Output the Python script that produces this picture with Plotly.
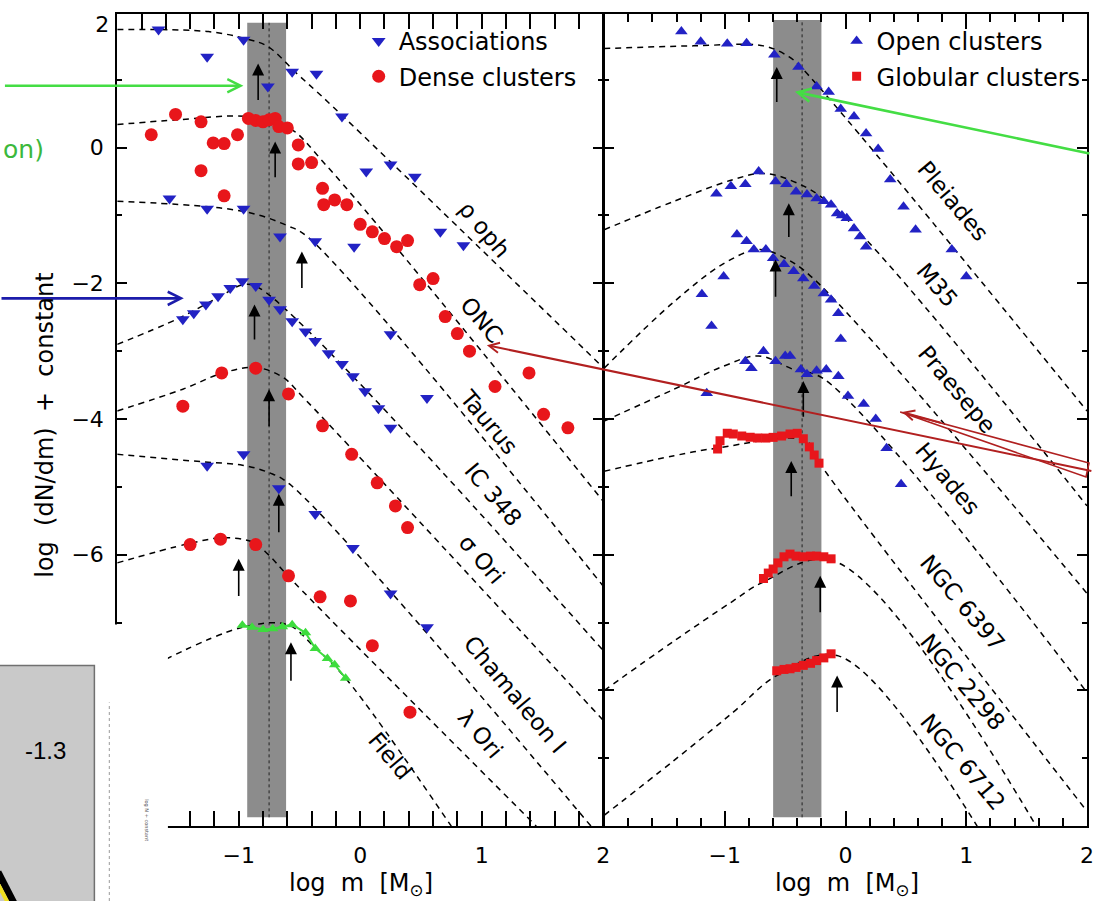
import plotly.graph_objects as go

W, H = 1096, 901

# ---------------- left panel: associations and dense clusters ----------------
# x = log m [Msun], y = log(dN/dm) + constant
rho_oph_x = [-1.66, -1.26, -0.96, -0.76, -0.56, -0.36, -0.15, 0.05, 0.25, 0.45, 0.66, 0.85]
rho_oph_y = [1.74, 1.34, 1.59, 0.90, 1.12, 1.09, 0.46, -0.35, -0.25, -0.43, -1.24, -1.44]

taurus_x = [-1.57, -1.26, -0.96, -0.66, -0.37, -0.05, 0.25, 0.55]
taurus_y = [-0.75, -0.90, -0.90, -1.31, -1.38, -1.46, -2.75, -3.69]

ic348_x = [-1.46, -1.37, -1.27, -1.17, -1.07, -0.97, -0.86, -0.75, -0.66, -0.56, -0.45, -0.37,
           -0.26, -0.15, -0.06, 0.04, 0.15, 0.25]
ic348_y = [-2.53, -2.44, -2.31, -2.19, -2.07, -1.97, -2.04, -2.24, -2.38, -2.56, -2.71, -2.85,
           -3.03, -3.19, -3.37, -3.59, -3.84, -4.13]

cham_x = [-1.26, -0.96, -0.67, -0.37, -0.06, 0.25, 0.55]
cham_y = [-4.69, -4.52, -5.02, -5.40, -5.90, -6.57, -7.07]

onc_x = [-1.72, -1.52, -1.31, -1.31, -1.21, -1.12, -1.01, -1.12, -0.92, -0.86, -0.80, -0.75,
         -0.70, -0.67, -0.60, -0.51, -0.51, -0.40, -0.31, -0.30, -0.21, -0.11, 0.00, 0.10,
         0.20, 0.30, 0.39, 0.49, 0.60, 0.70, 0.80, 0.90, 1.11, 1.39, 1.51, 1.71]
onc_y = [0.19, 0.49, 0.38, -0.34, 0.07, 0.06, 0.19, -0.71, 0.43, 0.40, 0.38, 0.41,
         0.43, 0.31, 0.29, 0.04, -0.24, -0.22, -0.60, -0.84, -0.77, -0.84, -1.13, -1.24,
         -1.34, -1.46, -1.37, -2.02, -1.93, -2.49, -2.74, -3.00, -3.52, -3.32, -3.93, -4.13]

sig_ori_x = [-1.46, -1.14, -0.86, -0.59, -0.31, -0.07, 0.14, 0.29, 0.39]
sig_ori_y = [-3.81, -3.32, -3.25, -3.63, -4.10, -4.52, -4.94, -5.28, -5.60]

lam_ori_x = [-1.40, -1.15, -0.86, -0.59, -0.33, -0.08, 0.10, 0.41]
lam_ori_y = [-5.85, -5.77, -5.85, -6.31, -6.62, -6.68, -7.34, -8.32]

field_x = [-0.97, -0.89, -0.80, -0.72, -0.64, -0.56, -0.45, -0.37, -0.27, -0.21, -0.12]
field_y = [-7.04, -7.07, -7.10, -7.09, -7.06, -7.03, -7.15, -7.38, -7.53, -7.62, -7.82]

# dashed model curves (left), vertices
fits_left = {
    "rho oph": ([-2.0, -1.25, -0.93, -0.76, -0.52, -0.27, 2.0], [1.74, 1.71, 1.60, 1.49, 1.09, 0.68, -3.24]),
    "ONC": ([-2.0, -1.5, -0.93, -0.6, -0.27, 2.0], [0.34, 0.41, 0.46, 0.31, -0.28, -5.21]),
    "Taurus": ([-2.0, -0.96, -0.60, -0.43, 2.0], [-0.79, -0.94, -1.15, -1.32, -6.46]),
    "IC 348": ([-2.0, -1.5, -1.17, -0.96, -0.83, 2.0], [-2.90, -2.52, -2.21, -2.02, -2.07, -7.41]),
    "sigma Ori": ([-2.0, -1.46, -1.13, -0.86, -0.64, -0.48, 2.0], [-3.88, -3.56, -3.32, -3.24, -3.38, -3.66, -8.44]),
    "Cham I": ([-2.0, -1.30, -0.97, -0.75, -0.58, 1.90], [-4.52, -4.63, -4.68, -4.79, -4.96, -10.0]),
    "lambda Ori": ([-2.0, -1.42, -1.13, -0.89, -0.76, -0.58, 1.45], [-6.12, -5.84, -5.75, -5.81, -5.99, -6.34, -10.0]),
    "Field": ([-1.6, -0.97, -0.60, -0.37, -0.12, 0.75], [-7.54, -7.07, -7.03, -7.37, -7.82, -10.0]),
}

# ---------------- right panel: open and globular clusters ----------------
pleiades_x = [-1.36, -1.20, -0.98, -0.82, -0.59, -0.39, -0.24, -0.14, -0.04, 0.07, 0.17, 0.27, 0.37,
              0.48, 0.58, 0.88, 1.00]
pleiades_y = [1.71, 1.56, 1.53, 1.54, 1.37, 1.19, 0.90, 0.82, 0.57, 0.46, 0.21, -0.02, -0.47,
              -0.87, -1.21, -1.50, -1.90]

m35_x = [-1.07, -0.95, -0.83, -0.72, -0.58, -0.49, -0.41, -0.32, -0.24, -0.18, -0.12, -0.07,
         -0.03, 0.01, 0.07, 0.12, 0.17]
m35_y = [-0.68, -0.57, -0.54, -0.35, -0.50, -0.54, -0.65, -0.69, -0.75, -0.79, -0.84, -0.97,
         -1.00, -1.04, -1.19, -1.31, -1.46]

praesepe_x = [-1.19, -1.11, -1.01, -0.90, -0.82, -0.76, -0.66, -0.60, -0.51, -0.43, -0.35, -0.26,
              -0.18, -0.12, -0.06, -0.04]
praesepe_y = [-2.16, -2.63, -1.90, -1.28, -1.38, -1.50, -1.50, -1.63, -1.72, -1.82, -1.93, -2.04,
              -2.15, -2.24, -2.44, -2.82]

hyades_x = [-1.15, -0.83, -0.78, -0.68, -0.58, -0.50, -0.46, -0.37, -0.32, -0.24, -0.16, -0.06,
            0.02, 0.15, 0.25, 0.34, 0.46]
hyades_y = [-3.62, -3.15, -3.25, -3.00, -3.15, -3.07, -3.07, -3.27, -3.34, -3.29, -3.27, -3.37,
            -3.66, -3.78, -4.00, -4.43, -4.96]

ngc6397_x = [-1.06, -1.04, -0.98, -0.93, -0.86, -0.79, -0.73, -0.66, -0.60, -0.53, -0.46, -0.40,
             -0.35, -0.30, -0.26, -0.22]
ngc6397_y = [-4.44, -4.32, -4.21, -4.22, -4.25, -4.27, -4.28, -4.28, -4.27, -4.25, -4.22, -4.21,
             -4.29, -4.41, -4.53, -4.65]

ngc2298_x = [-0.68, -0.64, -0.60, -0.56, -0.51, -0.46, -0.41, -0.35, -0.29, -0.24, -0.18, -0.12]
ngc2298_y = [-6.35, -6.27, -6.21, -6.12, -6.03, -5.99, -6.02, -6.03, -6.02, -6.02, -6.03, -6.06]

ngc6712_x = [-0.57, -0.51, -0.46, -0.41, -0.35, -0.29, -0.24, -0.18, -0.12]
ngc6712_y = [-7.71, -7.69, -7.68, -7.66, -7.63, -7.60, -7.56, -7.52, -7.46]

fits_right = {
    "Pleiades": ([-2.0, -1.26, -0.68, -0.47, -0.35, 2.0], [1.46, 1.50, 1.50, 1.34, 1.15, -3.88]),
    "M35": ([-2.0, -1.42, -0.93, -0.68, -0.43, -0.10, 2.0], [-1.21, -0.79, -0.47, -0.38, -0.50, -0.87, -5.28]),
    "Praesepe": ([-2.0, -1.42, -1.01, -0.72, -0.51, -0.26, 2.0], [-3.25, -2.27, -1.71, -1.50, -1.62, -1.94, -6.57]),
    "Hyades": ([-2.0, -1.42, -1.01, -0.72, -0.43, -0.18, 2.0], [-4.03, -3.56, -3.22, -3.07, -3.27, -3.41, -8.03]),
    "NGC 6397": ([-2.0, -1.42, -1.07, -0.33, -0.20, 2.0], [-4.77, -4.54, -4.43, -4.32, -4.69, -9.78]),
    "NGC 2298": ([-2.0, -1.42, -0.93, -0.69, -0.10, 1.58], [-8.0, -7.27, -6.68, -6.41, -6.09, -10.0]),
    "NGC 6712": ([-2.0, -1.42, -0.93, -0.57, -0.06, 1.09], [-9.84, -9.03, -8.32, -7.78, -7.49, -10.0]),
}

# characteristic-mass arrows: x, tail y, tip y
arrows_left_x = [-0.84, -0.70, -0.48, -0.87, -0.75, -0.67, -1.00, -0.57]
arrows_left_y0 = [0.68, -0.46, -2.09, -2.85, -4.13, -5.69, -6.63, -7.88]
arrows_left_y1 = [1.24, 0.09, -1.53, -2.31, -3.56, -5.10, -6.06, -7.29]
arrows_right_x = [-0.57, -0.47, -0.58, -0.35, -0.45, -0.21, -0.07]
arrows_right_y0 = [0.65, -1.34, -2.22, -3.99, -5.16, -6.87, -8.34]
arrows_right_y1 = [1.19, -0.82, -1.65, -3.44, -4.62, -6.31, -7.78]

# cluster labels: text, x, y
labels_left = [("ρ oph", 1.02, -1.20), ("ONC", 1.00, -2.54), ("Taurus", 1.06, -4.04),
               ("IC 348", 1.09, -5.11), ("σ Ori", 1.00, -6.06), ("Chamaleon I", 1.28, -8.06),
               ("λ Ori", 0.99, -8.64), ("Field", 0.25, -8.96)]
labels_right = [("Pleiades", 0.89, -0.79), ("M35", 0.76, -2.02), ("Praesepe", 0.92, -3.56),
                ("Hyades", 0.85, -4.88), ("NGC 6397", 0.97, -6.71), ("NGC 2298", 0.97, -7.88),
                ("NGC 6712", 0.97, -9.06)]

# grey band of the characteristic mass: x0, x1, centre
band_left = (-0.93, -0.61, -0.75)
band_right = (-0.60, -0.20, -0.36)

BLUE = "#2222c4"
RED = "#e8161b"
GREEN = "#3ddc3d"
FONT = "DejaVu Sans"


def px(x):
    return x / W


def py(y):
    return 1 - y / H


fig = go.Figure()

dash = dict(color="black", width=1.5, dash="6px,5px")
for name, (fx, fy) in fits_left.items():
    fig.add_trace(go.Scatter(x=fx, y=fy, mode="lines", line=dash, line_shape="spline",
                             showlegend=False, hoverinfo="skip", xaxis="x", yaxis="y"))
for name, (fx, fy) in fits_right.items():
    fig.add_trace(go.Scatter(x=fx, y=fy, mode="lines", line=dash, line_shape="spline",
                             showlegend=False, hoverinfo="skip", xaxis="x2", yaxis="y2"))

fig.add_trace(go.Scatter(x=field_x, y=field_y, mode="lines+markers",
                         line=dict(color=GREEN, width=2),
                         marker=dict(symbol="triangle-up", size=10, color=GREEN),
                         showlegend=False, xaxis="x", yaxis="y"))

assoc = [(rho_oph_x, rho_oph_y), (taurus_x, taurus_y), (ic348_x, ic348_y), (cham_x, cham_y)]
for i, (sx, sy) in enumerate(assoc):
    fig.add_trace(go.Scatter(x=sx, y=sy, mode="markers", name="Associations",
                             legendgroup="assoc", showlegend=(i == 0), legend="legend",
                             marker=dict(symbol="triangle-down", size=12, color=BLUE),
                             xaxis="x", yaxis="y"))
dense = [(onc_x, onc_y), (sig_ori_x, sig_ori_y), (lam_ori_x, lam_ori_y)]
for i, (sx, sy) in enumerate(dense):
    fig.add_trace(go.Scatter(x=sx, y=sy, mode="markers", name="Dense clusters",
                             legendgroup="dense", showlegend=(i == 0), legend="legend",
                             marker=dict(symbol="circle", size=13, color=RED),
                             xaxis="x", yaxis="y"))

opencl = [(pleiades_x, pleiades_y), (m35_x, m35_y), (praesepe_x, praesepe_y), (hyades_x, hyades_y)]
for i, (sx, sy) in enumerate(opencl):
    fig.add_trace(go.Scatter(x=sx, y=sy, mode="markers", name="Open clusters",
                             legendgroup="open", showlegend=(i == 0), legend="legend2",
                             marker=dict(symbol="triangle-up", size=11, color=BLUE),
                             xaxis="x2", yaxis="y2"))
globcl = [(ngc6397_x, ngc6397_y), (ngc2298_x, ngc2298_y), (ngc6712_x, ngc6712_y)]
for i, (sx, sy) in enumerate(globcl):
    fig.add_trace(go.Scatter(x=sx, y=sy, mode="markers", name="Globular clusters",
                             legendgroup="glob", showlegend=(i == 0), legend="legend2",
                             marker=dict(symbol="square", size=9, color=RED),
                             xaxis="x2", yaxis="y2"))

# empty trace so the overlay axis carrying the top "2" label is drawn
fig.add_trace(go.Scatter(x=[], y=[], showlegend=False, xaxis="x", yaxis="y3"))

shapes = []
for (b0, b1, bc), xr, yr, top in [(band_left, "x", "y", 1.84), (band_right, "x2", "y2", 1.88)]:
    shapes.append(dict(type="rect", xref=xr, yref=yr, x0=b0, x1=b1, y0=-9.87, y1=top,
                       fillcolor="#8c8c8c", line=dict(width=0), layer="below"))
    shapes.append(dict(type="line", xref=xr, yref=yr, x0=bc, x1=bc, y0=-9.87, y1=top,
                       line=dict(color="#222", width=1, dash="dot"), layer="below"))

# slide overlays: white cover and inset in the lower left corner
shapes.append(dict(type="rect", xref="paper", yref="paper", x0=0, x1=px(169), y0=0, y1=py(624),
                   fillcolor="white", line=dict(width=0), layer="above"))
shapes.append(dict(type="rect", xref="paper", yref="paper", x0=-0.01, x1=px(95), y0=-0.01, y1=py(665),
                   fillcolor="#c9c9c9", line=dict(color="#707070", width=1.5), layer="above"))
shapes.append(dict(type="line", xref="paper", yref="paper", x0=px(110), x1=px(110), y0=0, y1=py(702),
                   line=dict(color="#9a9a9a", width=1, dash="dot"), layer="above"))
shapes.append(dict(type="line", xref="paper", yref="paper", x0=px(-2), x1=px(14), y0=py(872), y1=py(903),
                   line=dict(color="black", width=7), layer="above"))
shapes.append(dict(type="line", xref="paper", yref="paper", x0=px(-2), x1=px(8), y0=py(884), y1=py(903),
                   line=dict(color="#f0e020", width=4), layer="above"))
# outlined red arrow pointing at Praesepe/Hyades
wedge = "M {},{} L {},{} L {},{} Z".format(px(906), py(411), px(1096), py(462), px(1093), py(476))
shapes.append(dict(type="path", xref="paper", yref="paper", path=wedge,
                   line=dict(color="#b02020", width=1.6), layer="above"))

ann = []
for xs, y0s, y1s, xr, yr in [(arrows_left_x, arrows_left_y0, arrows_left_y1, "x", "y"),
                             (arrows_right_x, arrows_right_y0, arrows_right_y1, "x2", "y2")]:
    for ax_, a0, a1 in zip(xs, y0s, y1s):
        ann.append(dict(x=ax_, y=a1, ax=ax_, ay=a0, xref=xr, yref=yr, axref=xr, ayref=yr,
                        text="", showarrow=True, arrowhead=2, arrowsize=1.5, arrowwidth=1.6,
                        arrowcolor="black"))

for lbls, xr, yr in [(labels_left, "x", "y"), (labels_right, "x2", "y2")]:
    for t, lx, ly in lbls:
        ann.append(dict(x=lx, y=ly, xref=xr, yref=yr, text=t, showarrow=False, textangle=50,
                        xanchor="center", yanchor="middle",
                        font=dict(family=FONT, size=23, color="black")))

# slide arrows
for tipx, tipy, dx, dy, col, wd in [(245, 84, -240, 0, "#44dd44", 2.6), (185, 297, -190, 0, "#1c1cab", 2.6),
                                    (490, 344, 606, 126, "#b22020", 2), (800, 90, 296, 62, "#44dd44", 2.6),
                                    (908, 411, 40, 11, "#b22020", 2)]:
    ann.append(dict(x=px(tipx), y=py(tipy), xref="paper", yref="paper", ax=dx, ay=dy,
                    text="", showarrow=True, arrowhead=5, arrowsize=1, arrowwidth=wd,
                    arrowcolor=col))

ann += [
    dict(x=px(46), y=py(148), xref="paper", yref="paper", text="on)", showarrow=False,
         xanchor="right", yanchor="middle", font=dict(family=FONT, size=25, color="#3cb83c")),
    dict(x=px(68), y=py(750), xref="paper", yref="paper", text="-1.3", showarrow=False,
         xanchor="right", yanchor="middle", font=dict(family="Liberation Sans", size=24, color="black")),
    dict(x=px(148), y=py(820), xref="paper", yref="paper", text="log N + constant", showarrow=False,
         xanchor="center", yanchor="middle", textangle=90, font=dict(family=FONT, size=5, color="#555")),
    dict(x=px(45), y=py(424), xref="paper", yref="paper", text="log  (dN/dm)  +  constant",
         showarrow=False, textangle=-90, xanchor="center", yanchor="middle",
         font=dict(family=FONT, size=24, color="black")),
    dict(x=px(363), y=py(884), xref="paper", yref="paper", text="log  m  [M<sub>⊙</sub>]",
         showarrow=False, xanchor="center", yanchor="middle", font=dict(family=FONT, size=24, color="black")),
    dict(x=px(852), y=py(884), xref="paper", yref="paper", text="log  m  [M<sub>⊙</sub>]",
         showarrow=False, xanchor="center", yanchor="middle", font=dict(family=FONT, size=24, color="black")),
]

axis = dict(showline=True, linecolor="black", linewidth=2, mirror="allticks", ticks="inside",
            tickcolor="black", tickwidth=1.5, showgrid=False, zeroline=False,
            tickfont=dict(family=FONT, size=22, color="black"))
xminor = dict(ticks="inside", ticklen=8, tickwidth=1.5, tickcolor="black", dtick=0.2, showgrid=False)
yminor = dict(ticks="inside", ticklen=5, tickwidth=1.5, tickcolor="black", dtick=1, showgrid=False)

fig.update_layout(
    width=W, height=H, margin=dict(l=0, r=0, t=0, b=0),
    paper_bgcolor="white", plot_bgcolor="white",
    xaxis=dict(axis, domain=[px(118), px(607)], range=[-2, 2], anchor="y",
               tickvals=[-1, 0, 1, 2], ticklen=15, minor=xminor, ticklabelstandoff=8),
    yaxis=dict(axis, domain=[py(826), py(12)], range=[-10, 1.97], anchor="x",
               tickvals=[0, -2, -4, -6], ticklen=10, minor=yminor, ticklabelstandoff=7),
    # the "2" at the top of the left axis sits a little below the frame edge
    yaxis3=dict(overlaying="y", anchor="x", side="left", range=[-10, 1.97],
                tickvals=[1.82], ticktext=["2"], ticks="", showline=False, showgrid=False,
                zeroline=False, ticklabelstandoff=7,
                tickfont=dict(family=FONT, size=22, color="black")),
    xaxis2=dict(axis, domain=[px(608), px(1094)], range=[-2, 2], anchor="y2",
                tickvals=[-1, 0, 1, 2], ticklen=15, minor=xminor, ticklabelstandoff=8),
    yaxis2=dict(axis, domain=[py(826), py(12)], range=[-10, 1.97], anchor="x2",
                tickvals=[2, 0, -2, -4, -6, -8, -10], showticklabels=False,
                ticklen=10, minor=yminor),
    legend=dict(x=px(361), y=py(17), xanchor="left", yanchor="top", bgcolor="rgba(0,0,0,0)",
                font=dict(family=FONT, size=24, color="black"), tracegroupgap=1),
    legend2=dict(x=px(842), y=py(17), xanchor="left", yanchor="top", bgcolor="rgba(0,0,0,0)",
                 font=dict(family=FONT, size=24, color="black"), tracegroupgap=1),
    shapes=shapes, annotations=ann,
)

# the page body keeps its default 8px margin otherwise, which shifts the chart
fig.write_html("out.html", config={"displayModeBar": False},
               post_script="document.body.style.margin = '0';")
